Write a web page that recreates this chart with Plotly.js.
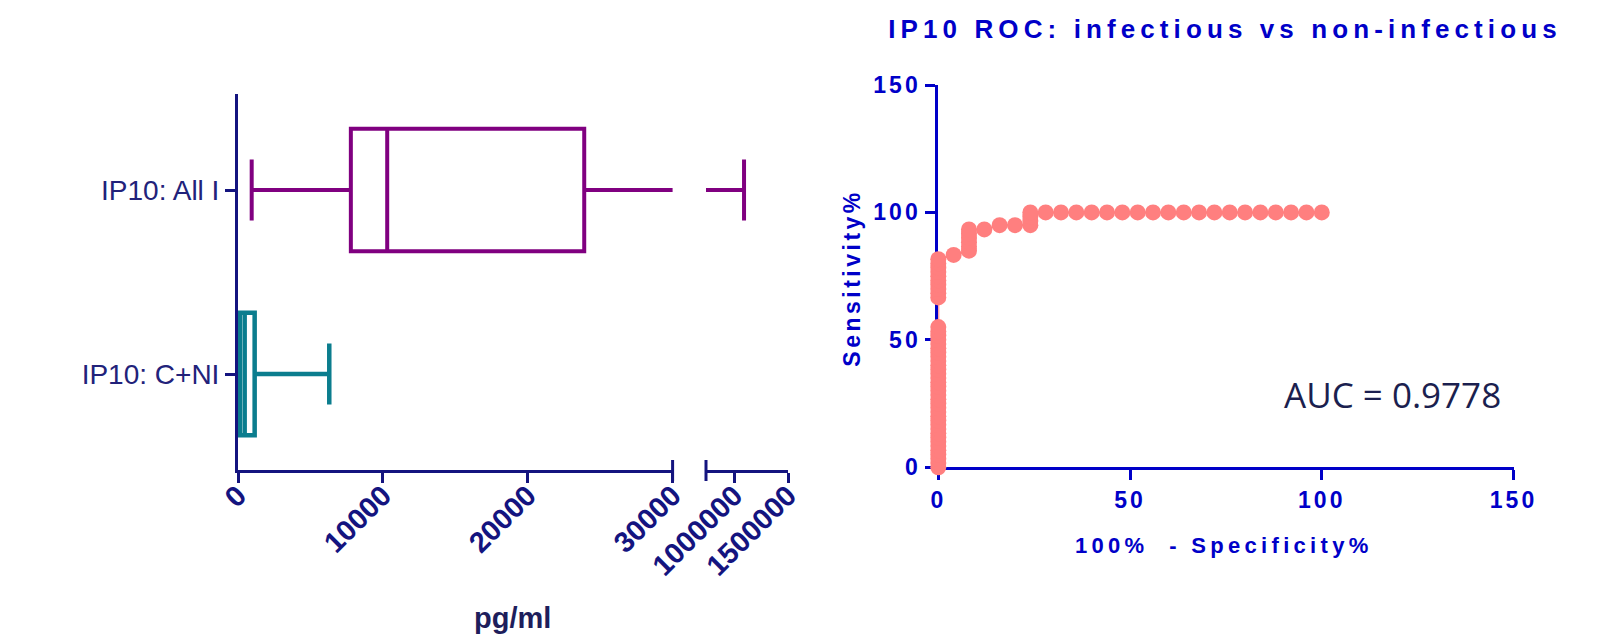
<!DOCTYPE html>
<html>
<head>
<meta charset="utf-8">
<script src="https://cdn.plot.ly/plotly-3.0.1.min.js"></script>
<style>
  html, body { margin: 0; padding: 0; background: #ffffff; }
  #chart { width: 1608px; height: 639px; }
  .gtitle { letter-spacing: 5.1px; }
  .x3tick text, .y3tick text { letter-spacing: 3px; }
  g.annotation[data-index="1"] text { letter-spacing: 3.5px; }
  g.annotation[data-index="2"] text { letter-spacing: 4.3px; }
</style>
</head>
<body>
<div id="chart"></div>
<script>
// ---------------- DATA ----------------
// Box plot (IP10, pg/ml) - precomputed statistics
const boxCategories = ['IP10: All I', 'IP10: C+NI'];
const boxQ1 = [7790, 120];
const boxMedian = [10300, 460];
const boxQ3 = [23900, 1150];
const boxLowerFence = [945, 20];
const boxUpperFence = [1092600, 6300];

// broken x axis tick values / labels
const seg1TickVals = [0, 10000, 20000, 30000];
const seg1TickText = ['0', '10000', '20000', '30000'];
const seg2TickVals = [1000000, 1500000];
const seg2TickText = ['1000000', '1500000'];
const seg1Range = [0, 30000];
const seg2Range = [740000, 1500000];

// ROC curve: 100% - Specificity% (x) and Sensitivity% (y)
const rocFpr = [
  0, 0, 0, 0, 0, 0, 0, 0, 0, 0, 0, 0, 0, 0, 0, 0, 0,
  0, 0, 0, 0, 0, 0, 0, 0, 0, 0, 0, 0, 0, 0, 0, 0, 0,
  0, 0, 0, 0, 0, 0, 0, 0, 0, 0,
  4,
  8, 8, 8, 8, 8, 8,
  12, 16, 20,
  24, 24, 24, 24,
  28, 32, 36, 40, 44, 48, 52, 56, 60, 64, 68, 72, 76, 80, 84, 88, 92, 96, 100
];
const rocSens = [
  0, 1.67, 3.33, 5, 6.67, 8.33, 10, 11.67, 13.33, 15, 16.67, 18.33, 20, 21.67, 23.33, 25, 26.67,
  28.33, 30, 31.67, 33.33, 35, 36.67, 38.33, 40, 41.67, 43.33, 45, 46.67, 48.33, 50, 51.67, 53.33, 55,
  66.67, 68.33, 70, 71.67, 73.33, 75, 76.67, 78.33, 80, 81.67,
  83.33,
  85, 86.67, 88.33, 90, 91.67, 93.33,
  93.33, 95, 95,
  95, 96.67, 98.33, 100,
  100, 100, 100, 100, 100, 100, 100, 100, 100, 100, 100, 100, 100, 100, 100, 100, 100, 100, 100
];
const rocTickVals = [0, 50, 100, 150];
const aucText = 'AUC = 0.9778';

// ---------------- STYLE ----------------
const W = 1608, H = 639;
const navy = '#14147f';
const purple = '#800080';
const teal = '#0b7d8e';
const blue = '#0000c8';
const salmon = '#ff7f7f';
const px = v => v / W;           // horizontal pixel -> paper
const py = v => 1 - v / H;       // vertical pixel -> paper

const seg1Domain = [px(238), px(672.6)];
const seg2Domain = [px(706), px(788)];
const boxYDomain = [py(470), py(94)];
const rocXDomain = [px(938.3), px(1513.5)];
const rocYDomain = [py(467.3), py(85)];

const boxBase = {
  type: 'box', orientation: 'h', width: 0.665, whiskerwidth: 0.5,
  fillcolor: 'rgba(0,0,0,0)', boxpoints: false, hoverinfo: 'skip', showlegend: false
};

const traces = [
  Object.assign({}, boxBase, {
    y: [boxCategories[0]], q1: [boxQ1[0]], median: [boxMedian[0]], q3: [boxQ3[0]],
    lowerfence: [boxLowerFence[0]], upperfence: [boxUpperFence[0]],
    line: { color: purple, width: 4 }, xaxis: 'x', yaxis: 'y'
  }),
  Object.assign({}, boxBase, {
    y: [boxCategories[1]], q1: [boxQ1[1]], median: [boxMedian[1]], q3: [boxQ3[1]],
    lowerfence: [boxLowerFence[1]], upperfence: [boxUpperFence[1]],
    line: { color: teal, width: 4.5 }, xaxis: 'x', yaxis: 'y'
  }),
  Object.assign({}, boxBase, {
    y: [boxCategories[0]], q1: [boxQ1[0]], median: [boxMedian[0]], q3: [boxQ3[0]],
    lowerfence: [boxLowerFence[0]], upperfence: [boxUpperFence[0]],
    line: { color: purple, width: 4 }, xaxis: 'x2', yaxis: 'y'
  }),
  {
    type: 'scatter', mode: 'lines+markers', x: rocFpr, y: rocSens,
    xaxis: 'x3', yaxis: 'y3', cliponaxis: false, showlegend: false, hoverinfo: 'skip',
    line: { color: salmon, width: 2 },
    marker: { color: salmon, size: 16, line: { width: 0 } }
  }
];

const leftTickFont = { family: 'Liberation Sans, Arial, sans-serif', size: 29, color: navy, weight: 'bold' };
const rocTickFont = { family: 'Liberation Sans, Arial, sans-serif', size: 23, color: blue, weight: 'bold' };

const layout = {
  width: W, height: H,
  margin: { l: 0, r: 0, t: 0, b: 0, pad: 0 },
  paper_bgcolor: '#ffffff', plot_bgcolor: 'rgba(0,0,0,0)',
  showlegend: false, boxmode: 'overlay',
  title: {
    text: 'IP10 ROC: infectious vs non-infectious',
    x: px(1225), xanchor: 'center', y: 1 - 29 / H, yanchor: 'middle',
    font: { family: 'Liberation Sans, Arial, sans-serif', size: 26, color: blue, weight: 'bold' }
  },
  xaxis: {
    domain: seg1Domain, range: seg1Range, anchor: 'y',
    showgrid: false, zeroline: false, showline: true, linecolor: navy, linewidth: 3,
    ticks: 'outside', ticklen: 10, tickwidth: 3, tickcolor: navy,
    tickmode: 'array', tickvals: seg1TickVals, ticktext: seg1TickText,
    tickangle: -45, tickfont: leftTickFont, ticklabelstandoff: -16, automargin: false
  },
  xaxis2: {
    domain: seg2Domain, range: seg2Range, anchor: 'y',
    showgrid: false, zeroline: false, showline: true, linecolor: navy, linewidth: 3,
    ticks: 'outside', ticklen: 10, tickwidth: 3, tickcolor: navy,
    tickmode: 'array', tickvals: seg2TickVals, ticktext: seg2TickText,
    tickangle: -45, tickfont: leftTickFont, ticklabelstandoff: -16, automargin: false
  },
  yaxis: {
    domain: boxYDomain, anchor: 'x', type: 'category',
    categoryorder: 'array', categoryarray: [boxCategories[1], boxCategories[0]],
    range: [-0.5217, 1.5217],
    showgrid: false, zeroline: false, showline: true, linecolor: navy, linewidth: 3,
    ticks: 'outside', ticklen: 10, tickwidth: 3, tickcolor: navy,
    tickfont: { family: 'Liberation Sans, Arial, sans-serif', size: 28, color: '#22227a' },
    automargin: false
  },
  xaxis3: {
    domain: rocXDomain, range: [0, 150], anchor: 'y3',
    showgrid: false, zeroline: false, showline: true, linecolor: blue, linewidth: 3,
    ticks: 'outside', ticklen: 10, tickwidth: 3, tickcolor: blue,
    tickmode: 'array', tickvals: rocTickVals, ticktext: rocTickVals.map(String),
    tickfont: rocTickFont, layer: 'below traces', automargin: false
  },
  yaxis3: {
    domain: rocYDomain, range: [0, 150], anchor: 'x3',
    showgrid: false, zeroline: false, showline: true, linecolor: blue, linewidth: 3,
    ticks: 'outside', ticklen: 10, tickwidth: 3, tickcolor: blue,
    tickmode: 'array', tickvals: rocTickVals, ticktext: rocTickVals.map(String),
    tickfont: rocTickFont, layer: 'below traces', automargin: false
  },
  shapes: [
    { type: 'line', xref: 'paper', yref: 'paper', x0: seg1Domain[1], x1: seg1Domain[1],
      y0: py(481), y1: py(460), line: { color: navy, width: 3 } },
    { type: 'line', xref: 'paper', yref: 'paper', x0: seg2Domain[0], x1: seg2Domain[0],
      y0: py(481), y1: py(460), line: { color: navy, width: 3 } }
  ],
  annotations: [
    { text: 'pg/ml', xref: 'paper', yref: 'paper', x: px(512), y: py(618),
      xanchor: 'center', yanchor: 'middle', showarrow: false,
      font: { family: 'Liberation Sans, Arial, sans-serif', size: 29, color: '#1e1e5c', weight: 'bold' } },
    { text: 'Sensitivity%', xref: 'paper', yref: 'paper', x: px(851.7), y: py(278),
      xanchor: 'center', yanchor: 'middle', showarrow: false, textangle: -90,
      font: { family: 'Liberation Sans, Arial, sans-serif', size: 23, color: blue, weight: 'bold' } },
    { text: '100%\u00a0 - Specificity%', xref: 'paper', yref: 'paper', x: px(1224), y: py(545),
      xanchor: 'center', yanchor: 'middle', showarrow: false,
      font: { family: 'Liberation Sans, Arial, sans-serif', size: 22, color: blue, weight: 'bold' } },
    { text: aucText, xref: 'paper', yref: 'paper', x: px(1392.7), y: py(394),
      xanchor: 'center', yanchor: 'middle', showarrow: false,
      font: { family: 'Open Sans, Noto Sans, sans-serif', size: 35, color: '#1b1f4f' } }
  ]
};

Plotly.newPlot('chart', traces, layout, { displayModeBar: false, responsive: false });
</script>
</body>
</html>
